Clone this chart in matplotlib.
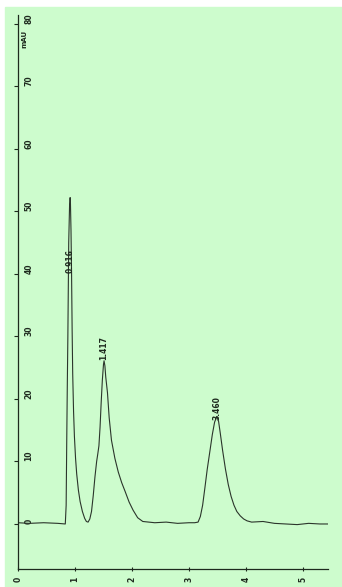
import matplotlib.pyplot as plt
from matplotlib.patches import Rectangle

# trace (time in min, signal in mAU)
time = [0.00, 0.20, 0.45, 0.70, 0.83, 0.845, 0.855, 0.865, 0.875, 0.89, 0.905, 0.915,
        0.92, 0.93, 0.94, 0.95, 0.96, 0.975, 0.99, 1.01, 1.03, 1.06, 1.09, 1.13, 1.17,
        1.20, 1.23, 1.26, 1.29, 1.32, 1.35, 1.38, 1.40, 1.42, 1.44, 1.46, 1.48, 1.50,
        1.51, 1.525, 1.54, 1.57, 1.60, 1.64, 1.70, 1.76, 1.82, 1.88, 1.95, 2.02, 2.10,
        2.19, 2.40, 2.60, 2.80, 3.00, 3.10, 3.16, 3.20, 3.24, 3.28, 3.32, 3.37, 3.41,
        3.45, 3.49, 3.52, 3.55, 3.59, 3.64, 3.69, 3.74, 3.79, 3.84, 3.90, 3.96, 4.02,
        4.10, 4.30, 4.50, 4.70, 4.90, 5.10, 5.30, 5.44]
signal = [0.2, 0.1, 0.2, 0.1, 0.0, 3.0, 13.0, 22.0, 30.0, 45.0, 51.0, 52.2,
          51.5, 47.0, 40.0, 31.0, 24.0, 18.0, 14.0, 10.5, 8.0, 5.4, 3.6, 2.0, 0.9,
          0.4, 0.3, 0.8, 2.0, 4.5, 7.5, 10.0, 11.2, 12.5, 15.5, 19.5, 23.0, 25.5,
          26.1, 25.3, 23.5, 21.0, 17.0, 13.4, 10.5, 8.3, 6.6, 5.2, 3.5, 2.2, 1.0,
          0.4, 0.2, 0.3, 0.1, 0.2, 0.2, 0.3, 1.2, 3.0, 5.8, 8.7, 11.8, 14.3,
          16.3, 17.2, 16.4, 14.5, 11.8, 8.8, 6.3, 4.4, 3.0, 2.0, 1.3, 0.8, 0.5,
          0.3, 0.4, 0.1, 0.0, -0.1, 0.1, 0.0, 0.0]

peak_rt = [0.91, 1.51, 3.49]
peak_lbl = ['0.916', '1.417', '3.460']
peak_lbl_y = [42.0, 28.2, 18.6]

yticks = [0, 10, 20, 30, 40, 50, 60, 70, 80]
xticks = [0, 1, 2, 3, 4, 5]

green = '#cdfccd'
ink = '#1e2a1e'

fig = plt.figure(figsize=(3.42, 5.87), dpi=100)
fig.patches.append(Rectangle((5 / 342, 0), 1, (587 - 7) / 587,
                             transform=fig.transFigure, color=green, zorder=-10))

ax = fig.add_axes([18 / 342, 18 / 587, 310 / 342, 554 / 587])
ax.set_zorder(5)
ax.set_facecolor('none')
ax.plot(time, signal, color='#2b352b', lw=0.8)

ax.set_xlim(0, 5.44)
ax.set_ylim(-7.2, 81.4)

for s in ['top', 'right']:
    ax.spines[s].set_visible(False)
for s in ['left', 'bottom']:
    ax.spines[s].set_color(ink)
    ax.spines[s].set_linewidth(0.9)

ax.set_yticks(yticks)
ax.set_yticklabels([str(v) for v in yticks], rotation=90, ha='center', va='bottom',
                   fontsize=5.5, color=ink, fontweight='bold')
ax.tick_params(axis='y', direction='out', length=3, width=0.8, color=ink, pad=-11)

ax.set_xticks(xticks)
ax.set_xticklabels([str(v) for v in xticks], rotation=90, ha='center', va='top',
                   fontsize=5.5, color=ink, fontweight='bold')
ax.tick_params(axis='x', direction='inout', length=3, width=0.8, color=ink, pad=4)

ax.text(0.12, 77.5, 'mAU', rotation=90, ha='center', va='center',
        fontsize=5, color=ink, fontweight='bold')

for rt, lbl, ly in zip(peak_rt, peak_lbl, peak_lbl_y):
    ax.text(rt, ly, lbl, rotation=90, ha='center', va='center',
            fontsize=5.5, color=ink, fontweight='bold')

fig.savefig('out.png', dpi=100)
